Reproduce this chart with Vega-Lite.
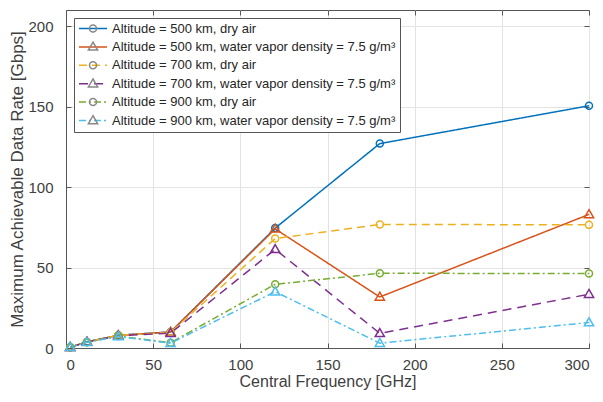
{
  "$schema": "https://vega.github.io/schema/vega-lite/v6.json",
  "width": 523,
  "height": 338,
  "autosize": {"type": "none"},
  "padding": {"left": 66, "top": 10, "right": 14, "bottom": 54},
  "background": "white",
  "config": {
    "font": "Liberation Sans",
    "view": {"stroke": "#555555", "strokeWidth": 1},
    "axis": {
      "domainColor": "#555555",
      "tickColor": "#555555",
      "labelColor": "#404040",
      "titleColor": "#404040",
      "labelFontSize": 15,
      "titleFontSize": 16,
      "titleFontWeight": "normal",
      "gridColor": "#e3e3e3",
      "gridWidth": 1,
      "tickSize": -5,
      "labelFont": "Liberation Sans",
      "titleFont": "Liberation Sans"
    }
  },
  "data": {
    "values": [
      {"series": "Altitude = 500 km, dry air", "f": 2.4, "r": 0.5},
      {"series": "Altitude = 500 km, dry air", "f": 12, "r": 3.8},
      {"series": "Altitude = 500 km, dry air", "f": 30, "r": 7.9},
      {"series": "Altitude = 500 km, dry air", "f": 60, "r": 10},
      {"series": "Altitude = 500 km, dry air", "f": 120, "r": 74.5},
      {"series": "Altitude = 500 km, dry air", "f": 180, "r": 127},
      {"series": "Altitude = 500 km, dry air", "f": 300, "r": 150.5},
      {"series": "Altitude = 500 km, water vapor density = 7.5 g/m³", "f": 2.4, "r": 0.5},
      {"series": "Altitude = 500 km, water vapor density = 7.5 g/m³", "f": 12, "r": 3.8},
      {"series": "Altitude = 500 km, water vapor density = 7.5 g/m³", "f": 30, "r": 7.9},
      {"series": "Altitude = 500 km, water vapor density = 7.5 g/m³", "f": 60, "r": 9.9},
      {"series": "Altitude = 500 km, water vapor density = 7.5 g/m³", "f": 120, "r": 74},
      {"series": "Altitude = 500 km, water vapor density = 7.5 g/m³", "f": 180, "r": 31.7},
      {"series": "Altitude = 500 km, water vapor density = 7.5 g/m³", "f": 300, "r": 83},
      {"series": "Altitude = 700 km, dry air", "f": 2.4, "r": 0.5},
      {"series": "Altitude = 700 km, dry air", "f": 12, "r": 3.8},
      {"series": "Altitude = 700 km, dry air", "f": 30, "r": 7.9},
      {"series": "Altitude = 700 km, dry air", "f": 60, "r": 9.8},
      {"series": "Altitude = 700 km, dry air", "f": 120, "r": 68},
      {"series": "Altitude = 700 km, dry air", "f": 180, "r": 76.8},
      {"series": "Altitude = 700 km, dry air", "f": 300, "r": 76.5},
      {"series": "Altitude = 700 km, water vapor density = 7.5 g/m³", "f": 2.4, "r": 0.5},
      {"series": "Altitude = 700 km, water vapor density = 7.5 g/m³", "f": 12, "r": 3.8},
      {"series": "Altitude = 700 km, water vapor density = 7.5 g/m³", "f": 30, "r": 7.6},
      {"series": "Altitude = 700 km, water vapor density = 7.5 g/m³", "f": 60, "r": 9.2},
      {"series": "Altitude = 700 km, water vapor density = 7.5 g/m³", "f": 120, "r": 61.3},
      {"series": "Altitude = 700 km, water vapor density = 7.5 g/m³", "f": 180, "r": 9.1},
      {"series": "Altitude = 700 km, water vapor density = 7.5 g/m³", "f": 300, "r": 33.4},
      {"series": "Altitude = 900 km, dry air", "f": 2.4, "r": 0.5},
      {"series": "Altitude = 900 km, dry air", "f": 12, "r": 3.6},
      {"series": "Altitude = 900 km, dry air", "f": 30, "r": 7.4},
      {"series": "Altitude = 900 km, dry air", "f": 60, "r": 3.3},
      {"series": "Altitude = 900 km, dry air", "f": 120, "r": 39.6},
      {"series": "Altitude = 900 km, dry air", "f": 180, "r": 46.4},
      {"series": "Altitude = 900 km, dry air", "f": 300, "r": 46.3},
      {"series": "Altitude = 900 km, water vapor density = 7.5 g/m³", "f": 2.4, "r": 0.5},
      {"series": "Altitude = 900 km, water vapor density = 7.5 g/m³", "f": 12, "r": 3.5},
      {"series": "Altitude = 900 km, water vapor density = 7.5 g/m³", "f": 30, "r": 7.1},
      {"series": "Altitude = 900 km, water vapor density = 7.5 g/m³", "f": 60, "r": 3.0},
      {"series": "Altitude = 900 km, water vapor density = 7.5 g/m³", "f": 120, "r": 35},
      {"series": "Altitude = 900 km, water vapor density = 7.5 g/m³", "f": 180, "r": 3},
      {"series": "Altitude = 900 km, water vapor density = 7.5 g/m³", "f": 300, "r": 15.8}
    ]
  },
  "resolve": {"axis": {"x": "independent", "y": "independent"}},
  "layer": [
    {
      "mark": {"type": "line", "strokeWidth": 1.5},
      "encoding": {
        "x": {
          "field": "f", "type": "quantitative",
          "scale": {"domain": [0, 300], "nice": false, "zero": false},
          "axis": {"title": "Central Frequency [GHz]", "values": [0, 50, 100, 150, 200, 250, 300], "labelPadding": 14, "titlePadding": 1}
        },
        "y": {
          "field": "r", "type": "quantitative",
          "scale": {"domain": [0, 210], "nice": false},
          "axis": {"title": "Maximum Achievable Data Rate [Gbps]", "titleFontSize": 17, "values": [0, 50, 100, 150, 200], "labelPadding": 18, "titlePadding": 1}
        },
        "color": {
          "field": "series", "type": "nominal", "sort": null,
          "scale": {
            "domain": [
              "Altitude = 500 km, dry air",
              "Altitude = 500 km, water vapor density = 7.5 g/m³",
              "Altitude = 700 km, dry air",
              "Altitude = 700 km, water vapor density = 7.5 g/m³",
              "Altitude = 900 km, dry air",
              "Altitude = 900 km, water vapor density = 7.5 g/m³"
            ],
            "range": ["#0072BD", "#D95319", "#EDB120", "#7E2F8E", "#77AC30", "#4DBEEE"]
          },
          "legend": {
            "title": null,
            "orient": "top-left",
            "offset": 8,
            "symbolType": "stroke",
            "symbolSize": 784,
            "symbolStrokeWidth": 1.5,
            "clipHeight": 13,
            "labelFontSize": 13,
            "labelColor": "#262626",
            "labelFont": "Liberation Sans",
            "labelLimit": 400,
            "labelOffset": 4,
            "rowPadding": 4.4,
            "padding": 4,
            "fillColor": "white",
            "strokeColor": "#555555",
            "encode": {
              "symbols": {
                "update": {
                  "stroke": {"scale": "color", "field": "value"},
                  "strokeDash": {"scale": "strokeDash", "field": "value"},
                  "fill": {"value": "transparent"}
                }
              }
            }
          }
        },
        "strokeDash": {
          "field": "series", "type": "nominal", "sort": null,
          "scale": {
            "domain": [
              "Altitude = 500 km, dry air",
              "Altitude = 500 km, water vapor density = 7.5 g/m³",
              "Altitude = 700 km, dry air",
              "Altitude = 700 km, water vapor density = 7.5 g/m³",
              "Altitude = 900 km, dry air",
              "Altitude = 900 km, water vapor density = 7.5 g/m³"
            ],
            "range": [[1, 0], [1, 0], [8, 5], [9, 6], [7, 3, 2, 3], [7, 3, 2, 3]]
          },
          "legend": null
        }
      }
    },
    {
      "mark": {"type": "point", "filled": false, "fill": "transparent", "strokeWidth": 1.5, "size": 784, "opacity": 1},
      "encoding": {
        "x": {"field": "f", "type": "quantitative", "axis": null},
        "y": {"field": "r", "type": "quantitative", "axis": null},
        "color": {"field": "series", "type": "nominal", "sort": null},
        "shape": {
          "field": "series", "type": "nominal", "sort": null,
          "scale": {
            "domain": [
              "Altitude = 500 km, dry air",
              "Altitude = 500 km, water vapor density = 7.5 g/m³",
              "Altitude = 700 km, dry air",
              "Altitude = 700 km, water vapor density = 7.5 g/m³",
              "Altitude = 900 km, dry air",
              "Altitude = 900 km, water vapor density = 7.5 g/m³"
            ],
            "range": [
              "M0.25,0A0.25,0.25,0,1,1,-0.25,0A0.25,0.25,0,1,1,0.25,0Z",
              "M0,-0.34L0.33,0.23L-0.33,0.23Z",
              "M0.25,0A0.25,0.25,0,1,1,-0.25,0A0.25,0.25,0,1,1,0.25,0Z",
              "M0,-0.34L0.33,0.23L-0.33,0.23Z",
              "M0.25,0A0.25,0.25,0,1,1,-0.25,0A0.25,0.25,0,1,1,0.25,0Z",
              "M0,-0.34L0.33,0.23L-0.33,0.23Z"
            ]
          },
          "legend": {
            "title": null,
            "orient": "none",
            "legendX": 8,
            "legendY": 8,
            "zindex": 2,
            "symbolSize": 784,
            "symbolStrokeWidth": 1.5,
            "clipHeight": 13,
            "labelFontSize": 13,
            "labelFont": "Liberation Sans",
            "labelLimit": 400,
            "labelOffset": 4,
            "labelOpacity": 0,
            "rowPadding": 4.4,
            "padding": 4,
            "encode": {
              "symbols": {
                "update": {
                  "stroke": {"scale": "color", "field": "value"},
                  "fill": {"value": "white"}
                }
              }
            }
          }
        }
      }
    },
    {
      "mark": {"type": "point", "opacity": 0},
      "encoding": {
        "x": {"field": "f", "type": "quantitative", "axis": {"orient": "top", "labels": false, "title": null, "grid": false, "domain": false, "values": [0, 50, 100, 150, 200, 250, 300]}},
        "y": {"field": "r", "type": "quantitative", "axis": {"orient": "right", "labels": false, "title": null, "grid": false, "domain": false, "values": [0, 50, 100, 150, 200]}}
      }
    }
  ]
}
